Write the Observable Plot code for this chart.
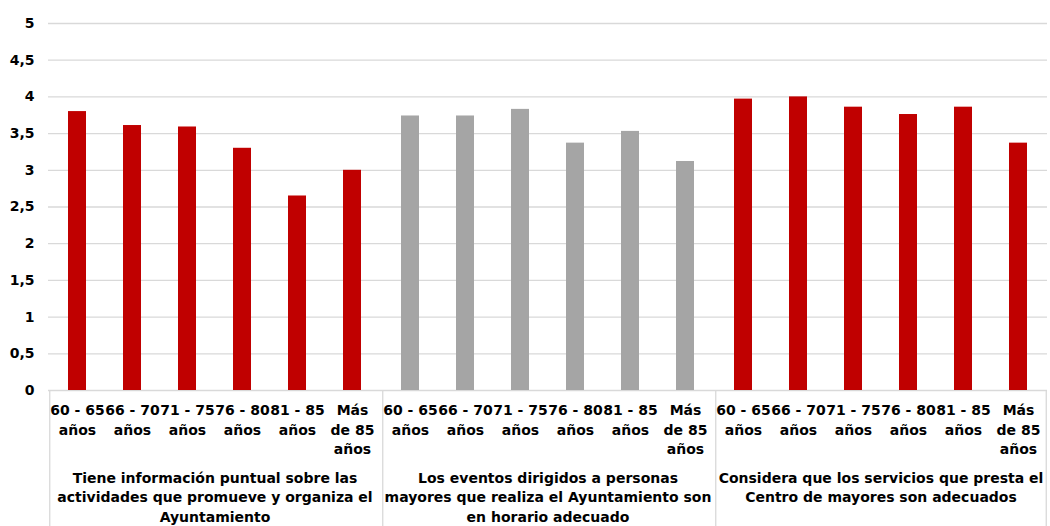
<!DOCTYPE html>
<html><head><meta charset="utf-8">
<script src="https://cdn.jsdelivr.net/npm/d3@7"></script>
<script src="https://cdn.jsdelivr.net/npm/@observablehq/plot@0.6"></script>
<style>body{margin:0;background:#fff} svg{display:block}</style>
</head><body><div id="chart"></div>
<script>
const groups = [
  "Tiene información puntual sobre las actividades que promueve y organiza el Ayuntamiento",
  "Los eventos dirigidos a personas mayores que realiza el Ayuntamiento son en horario adecuado",
  "Considera que los servicios que presta el Centro de mayores son adecuados"
];
const groupLabelLines = [
  "Tiene información puntual sobre las\nactividades que promueve y organiza el\nAyuntamiento",
  "Los eventos dirigidos a personas\nmayores que realiza el Ayuntamiento son\nen horario adecuado",
  "Considera que los servicios que presta el\nCentro de mayores son adecuados"
];
const ages = ["60 - 65 años", "66 - 70 años", "71 - 75 años", "76 - 80 años", "81 - 85 años", "Más de 85 años"];
const ageLabelLines = ["60 - 65\naños", "66 - 70\naños", "71 - 75\naños", "76 - 80\naños", "81 - 85\naños", "Más\nde 85\naños"];
const tieneInformacion = [3.80, 3.61, 3.59, 3.30, 2.65, 3.00];
const eventosHorario = [3.74, 3.74, 3.83, 3.37, 3.53, 3.12];
const serviciosAdecuados = [3.97, 4.00, 3.86, 3.76, 3.86, 3.37];
const groupColors = ["#C00000", "#A5A5A5", "#C00000"];
const yTicks = [0, 0.5, 1, 1.5, 2, 2.5, 3, 3.5, 4, 4.5, 5];

const seriesValues = [tieneInformacion, eventosHorario, serviciosAdecuados];
const data = groups.flatMap((g, i) => ages.map((a, j) => ({group: g, age: a, value: seriesValues[i][j]})));

const W = 1050, H = 526, mL = 48, mR = 3, mT = 23, mB = 136;
const step = (W - mL - mR) / groups.length / ages.length;
const yBottom = -(mB) / ((H - mT - mB) / 5);

const font = {fontSize: 14, fontWeight: "bold"};

const chart = Plot.plot({
  width: W, height: H,
  marginLeft: mL, marginRight: mR, marginTop: mT, marginBottom: mB,
  style: {fontFamily: "'DejaVu Sans', Arial, sans-serif", background: "#fff", color: "#000"},
  fx: {domain: groups, padding: 0},
  x: {domain: ages, paddingInner: 0.68, paddingOuter: 0.34},
  y: {domain: [0, 5]},
  color: {domain: groups, range: groupColors},
  marks: [
    Plot.gridY(yTicks, {stroke: "#d9d9d9", strokeOpacity: 1, strokeWidth: 1.3}),
    Plot.barY(data, {fx: "group", x: "age", y: "value", fill: "group"}),
    Plot.ruleX(groups, {fx: d => d, x: () => ages[0], dx: -step / 2, y1: 0, y2: yBottom, stroke: "#d9d9d9", strokeWidth: 1.3}),
    Plot.ruleX(groups.slice(-1), {fx: d => d, x: () => ages[ages.length - 1], dx: step / 2, y1: 0, y2: yBottom, stroke: "#d9d9d9", strokeWidth: 1.3}),
    Plot.axisY({ticks: yTicks, tickSize: 0, tickPadding: 14, label: null,
      tickFormat: d => String(d).replace(".", ","), ...font}),
    Plot.axisX({tickSize: 0, tickPadding: 11, label: null, lineHeight: 1.38,
      tickFormat: d => ageLabelLines[ages.indexOf(d)], ...font}),
    Plot.axisFx({anchor: "bottom", tickSize: 0, tickPadding: 78, label: null, lineHeight: 1.42,
      tickFormat: d => groupLabelLines[groups.indexOf(d)], ...font})
  ]
});
document.getElementById("chart").appendChild(chart);
</script>
</body></html>
